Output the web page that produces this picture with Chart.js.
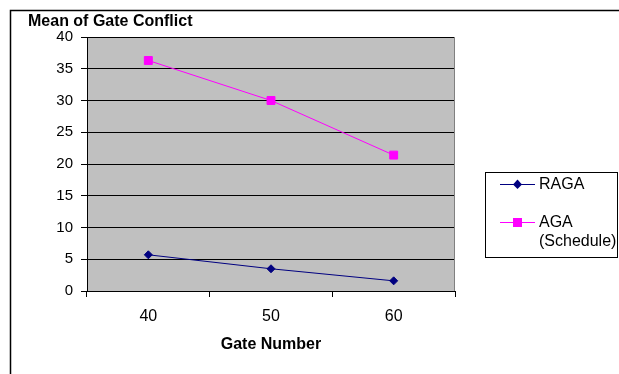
<!DOCTYPE html>
<html>
<head>
<meta charset="utf-8">
<script src="https://cdn.jsdelivr.net/npm/chart.js@4/dist/chart.umd.min.js"></script>
<style>
  html, body { margin: 0; padding: 0; background: #ffffff; }
  #wrap { width: 619px; height: 374px; position: relative; }
</style>
</head>
<body>
<div id="wrap"><canvas id="chart" width="619" height="374"></canvas></div>
<script>
// Gate count categories and mean conflict per algorithm
const gateNumbers = ['40', '50', '60'];
const ragaValues = [5.7, 3.5, 1.6];
const agaValues = [36.3, 30.0, 21.4];
const seriesNames = ['RAGA', ['AGA', '(Schedule)']];
const yTicks = [0, 5, 10, 15, 20, 25, 30, 35, 40];

const FONT = 'Liberation Sans, Arial, sans-serif';

// Outer frame, grey plot background, y-axis heading and boxed legend
const decor = {
  id: 'decor',
  beforeDraw(chart) {
    const { ctx, chartArea: a } = chart;
    ctx.save();
    ctx.fillStyle = '#ffffff';
    ctx.fillRect(0, 0, chart.width, chart.height);
    ctx.fillStyle = '#c0c0c0';
    ctx.fillRect(a.left, a.top, a.right - a.left, a.bottom - a.top);
    ctx.strokeStyle = '#000000';
    ctx.lineWidth = 1.5;
    ctx.beginPath();
    ctx.moveTo(10.5, chart.height + 5);
    ctx.lineTo(10.5, 10.5);
    ctx.lineTo(chart.width + 5, 10.5);
    ctx.stroke();
    ctx.restore();
  },
  afterDraw(chart) {
    const { ctx, chartArea: a } = chart;
    ctx.save();
    // plot right edge
    ctx.strokeStyle = '#808080';
    ctx.lineWidth = 1;
    ctx.beginPath();
    ctx.moveTo(a.right - 0.5, a.top);
    ctx.lineTo(a.right - 0.5, a.bottom);
    ctx.stroke();

    // y-axis heading
    ctx.fillStyle = '#000000';
    ctx.font = 'bold 16px ' + FONT;
    ctx.textBaseline = 'middle';
    ctx.textAlign = 'left';
    ctx.fillText('Mean of Gate Conflict', 28, 22);

    // legend box
    ctx.strokeStyle = '#000000';
    ctx.lineWidth = 1;
    ctx.strokeRect(485.5, 172.5, 132, 85);
    const rows = [184, 222];
    chart.data.datasets.forEach((ds, i) => {
      const y = rows[i];
      ctx.strokeStyle = ds.borderColor;
      ctx.lineWidth = 1;
      ctx.beginPath();
      ctx.moveTo(500, y + 0.5);
      ctx.lineTo(535, y + 0.5);
      ctx.stroke();
      ctx.fillStyle = ds.pointBackgroundColor;
      ctx.beginPath();
      if (ds.pointStyle === 'rect') {
        ctx.rect(513, y - 4, 9, 9);
      } else {
        ctx.moveTo(517.5, y - 4.5);
        ctx.lineTo(522, y + 0.5);
        ctx.lineTo(517.5, y + 5);
        ctx.lineTo(513, y + 0.5);
        ctx.closePath();
      }
      ctx.fill();
      ctx.fillStyle = '#000000';
      ctx.font = '16px ' + FONT;
      const lines = Array.isArray(ds.label) ? ds.label : [ds.label];
      lines.forEach((t, k) => ctx.fillText(t, 539, y + 1 + k * 19));
    });
    ctx.restore();
  }
};

new Chart(document.getElementById('chart'), {
  type: 'line',
  data: {
    labels: gateNumbers,
    datasets: [
      {
        label: seriesNames[0],
        data: ragaValues,
        borderColor: '#000080',
        backgroundColor: '#000080',
        pointBackgroundColor: '#000080',
        pointBorderColor: '#000080',
        pointStyle: 'rectRot',
        pointRadius: 4,
        pointBorderWidth: 1,
        borderWidth: 1,
        tension: 0
      },
      {
        label: seriesNames[1],
        data: agaValues,
        borderColor: '#ff00ff',
        backgroundColor: '#ff00ff',
        pointBackgroundColor: '#ff00ff',
        pointBorderColor: '#ff00ff',
        pointStyle: 'rect',
        pointRadius: 5.6,
        pointBorderWidth: 1,
        borderWidth: 1,
        tension: 0
      }
    ]
  },
  plugins: [decor],
  options: {
    responsive: false,
    animation: false,
    events: [],
    layout: { padding: { left: 27, right: 164, top: 37, bottom: 18 } },
    plugins: {
      legend: { display: false },
      title: { display: false },
      tooltip: { enabled: false }
    },
    scales: {
      x: {
        type: 'category',
        offset: true,
        afterFit(s) { s.height = 65; },
        grid: {
          offset: true,
          drawOnChartArea: false,
          drawTicks: true,
          tickLength: 6,
          color: '#000000',
          lineWidth: 1
        },
        border: { display: true, color: '#000000', width: 1 },
        ticks: {
          color: '#000000',
          padding: 10,
          font: { family: FONT, size: 16 }
        },
        title: {
          display: true,
          text: 'Gate Number',
          color: '#000000',
          padding: { top: 0, bottom: 2 },
          font: { family: FONT, size: 16, weight: 'bold' }
        }
      },
      y: {
        min: 0,
        max: 40,
        afterFit(s) { s.width = 60; },
        afterBuildTicks(s) { s.ticks = yTicks.map(v => ({ value: v })); },
        grid: {
          drawTicks: true,
          tickLength: 6,
          color: '#000000',
          lineWidth: 1
        },
        border: { display: true, color: '#000000', width: 1 },
        ticks: {
          color: '#000000',
          padding: 8,
          font: { family: FONT, size: 15 }
        }
      }
    }
  }
});
</script>
</body>
</html>
